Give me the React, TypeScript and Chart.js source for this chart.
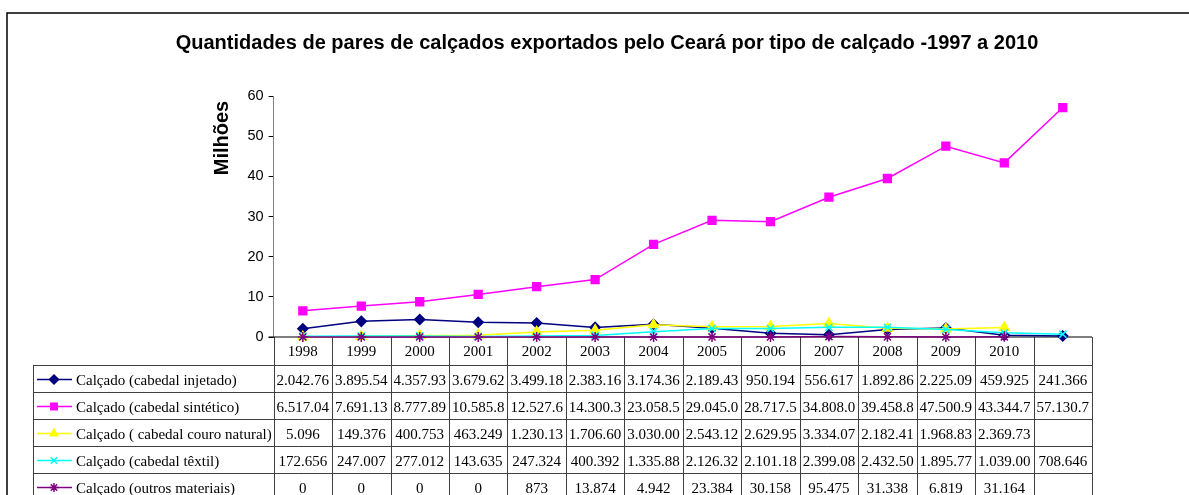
import { useEffect, useRef } from "react";
import { Chart, registerables } from "chart.js";
import { drawPoint } from "chart.js/helpers";

Chart.register(...registerables);

const titleText = "Quantidades de pares de calçados exportados pelo Ceará por tipo de calçado -1997 a 2010";
const yAxisTitle = "Milhões";

const years = ["1998", "1999", "2000", "2001", "2002", "2003", "2004", "2005", "2006", "2007", "2008", "2009", "2010", ""];

// values in pairs of shoes
const injetado = [2042760, 3895540, 4357930, 3679620, 3499180, 2383160, 3174360, 2189430, 950194, 556617, 1892860, 2225090, 459925, 241366];
const sintetico = [6517040, 7691130, 8777890, 10585800, 12527600, 14300300, 23058500, 29045000, 28717500, 34808000, 39458800, 47500900, 43344700, 57130700];
const couroNatural = [5096, 149376, 400753, 463249, 1230130, 1706600, 3030000, 2543120, 2629950, 3334070, 2182410, 1968830, 2369730, null];
const textil = [172656, 247007, 277012, 143635, 247324, 400392, 1335880, 2126320, 2101180, 2399080, 2432500, 1895770, 1039000, 708646];
const outros = [0, 0, 0, 0, 873, 13874, 4942, 23384, 30158, 95475, 31338, 6819, 31164, null];

const seriesNames = [
  "Calçado (cabedal injetado)",
  "Calçado (cabedal sintético)",
  "Calçado ( cabedal couro natural)",
  "Calçado (cabedal têxtil)",
  "Calçado (outros materiais)",
];
const seriesData = [injetado, sintetico, couroNatural, textil, outros];
const colors = ["#000080", "#FF00FF", "#FFFF00", "#00FFFF", "#800080"];
const markers = ["rectRot", "rect", "triangle", "crossRot", "star"];
const markerRadius = [5, 5.5, 5.5, 5, 5];

const yMin = 0;
const yMax = 60;
const yStep = 10;

function fmt(v: number | null): string {
  if (v === null || v === undefined) return "";
  const s = Math.round(v).toString().replace(/\B(?=(\d{3})+(?!\d))/g, ".");
  return s.slice(0, 8);
}

const tablePlugin = {
  id: "dataTable",
  beforeDatasetsDraw(chart: any) {
    const ctx = chart.ctx as CanvasRenderingContext2D;
    const area = chart.chartArea;
    const xs = chart.scales.x;
    const n = years.length;
    const colW = (area.right - area.left) / n;
    const top = area.bottom;
    const headerH = 28;
    const rowH = 27;
    const labelLeft = 33.5;
    const bottom = 500;
    ctx.save();

    // outer frame
    ctx.strokeStyle = "#000";
    ctx.lineWidth = 1.5;
    ctx.beginPath();
    ctx.moveTo(7, 500);
    ctx.lineTo(7, 13);
    ctx.lineTo(1195, 13);
    ctx.stroke();

    // title
    ctx.fillStyle = "#000";
    ctx.font = "bold 20px 'Liberation Sans', Arial, sans-serif";
    ctx.textAlign = "center";
    ctx.textBaseline = "middle";
    ctx.fillText(titleText, 607, 43);

    // y axis title
    ctx.save();
    ctx.translate(222, 138);
    ctx.rotate(-Math.PI / 2);
    ctx.fillText(yAxisTitle, 0, 0);
    ctx.restore();

    // table grid
    ctx.strokeStyle = "#404040";
    ctx.lineWidth = 1;
    ctx.beginPath();
    for (let i = 0; i <= n; i++) {
      const x = Math.round(area.left + i * colW) + 0.5;
      ctx.moveTo(x, top);
      ctx.lineTo(x, bottom);
    }
    ctx.moveTo(labelLeft, top + headerH);
    ctx.lineTo(labelLeft, bottom);
    for (let k = 0; k <= seriesNames.length; k++) {
      const y = Math.round(top + headerH + k * rowH) + 0.5;
      ctx.moveTo(labelLeft, y);
      ctx.lineTo(area.right, y);
    }
    ctx.stroke();

    // x axis line
    ctx.strokeStyle = "#000";
    ctx.lineWidth = 1.2;
    ctx.beginPath();
    ctx.moveTo(area.left - 5, top);
    ctx.lineTo(area.right, top);
    ctx.stroke();

    // year labels
    ctx.fillStyle = "#000";
    ctx.font = "15px 'Liberation Serif', 'Times New Roman', serif";
    ctx.textAlign = "center";
    ctx.textBaseline = "middle";
    for (let i = 0; i < n; i++) {
      ctx.fillText(years[i], xs.getPixelForValue(i), top + headerH / 2 + 1);
    }

    // rows
    for (let r = 0; r < seriesNames.length; r++) {
      const yc = top + headerH + r * rowH + rowH / 2 + 1;
      ctx.strokeStyle = colors[r];
      ctx.lineWidth = 1.5;
      ctx.beginPath();
      ctx.moveTo(37, yc);
      ctx.lineTo(72, yc);
      ctx.stroke();
      ctx.fillStyle = colors[r];
      drawPoint(ctx, { pointStyle: markers[r], radius: 4.5, rotation: 0, borderWidth: 1.5 } as any, 54, yc);
      ctx.fillStyle = "#000";
      ctx.textAlign = "left";
      const ty = yc + 2;
      ctx.fillText(seriesNames[r], 76, ty);
      ctx.textAlign = "center";
      const data = seriesData[r];
      for (let i = 0; i < n; i++) {
        ctx.fillText(fmt(data[i] as any), xs.getPixelForValue(i), ty);
      }
    }
    ctx.restore();
  },
};

export default function App() {
  const ref = useRef<HTMLCanvasElement | null>(null);
  useEffect(() => {
    if (!ref.current) return;
    const chart = new Chart(ref.current, {
      type: "line",
      data: {
        labels: years,
        datasets: seriesData.map((d, i) => ({
          label: seriesNames[i],
          data: d.map((v) => (v === null ? null : v / 1e6)),
          borderColor: colors[i],
          backgroundColor: colors[i],
          pointBackgroundColor: colors[i],
          pointBorderColor: colors[i],
          pointStyle: markers[i] as any,
          pointRadius: markerRadius[i],
          pointBorderWidth: 1.5,
          borderWidth: 1.5,
          tension: 0,
          order: seriesData.length - 1 - i,
          clip: false as any,
          spanGaps: false,
        })),
      },
      options: {
        animation: false,
        responsive: false,
        layout: { padding: { left: 213.6, right: 97, top: 96, bottom: 158 } },
        plugins: { legend: { display: false }, title: { display: false }, tooltip: { enabled: false } },
        scales: {
          x: { display: false, offset: true },
          y: {
            min: yMin,
            max: yMax,
            afterFit: (scale: any) => {
              scale.width = 60;
            },
            ticks: {
              stepSize: yStep,
              color: "#000",
              padding: 5,
              font: { family: "'Liberation Sans', Arial, sans-serif", size: 14.5 },
            },
            grid: { drawOnChartArea: false, drawTicks: true, tickLength: 5, color: "#000" },
            border: { display: true, color: "#808080", width: 1 },
          },
        },
      },
      plugins: [tablePlugin],
    });
    return () => chart.destroy();
  }, []);
  return (
    <div style={{ position: "absolute", left: 0, top: 0, width: 1189, height: 495, background: "#fff" }}>
      <canvas ref={ref} width={1189} height={495} style={{ display: "block" }} />
    </div>
  );
}
